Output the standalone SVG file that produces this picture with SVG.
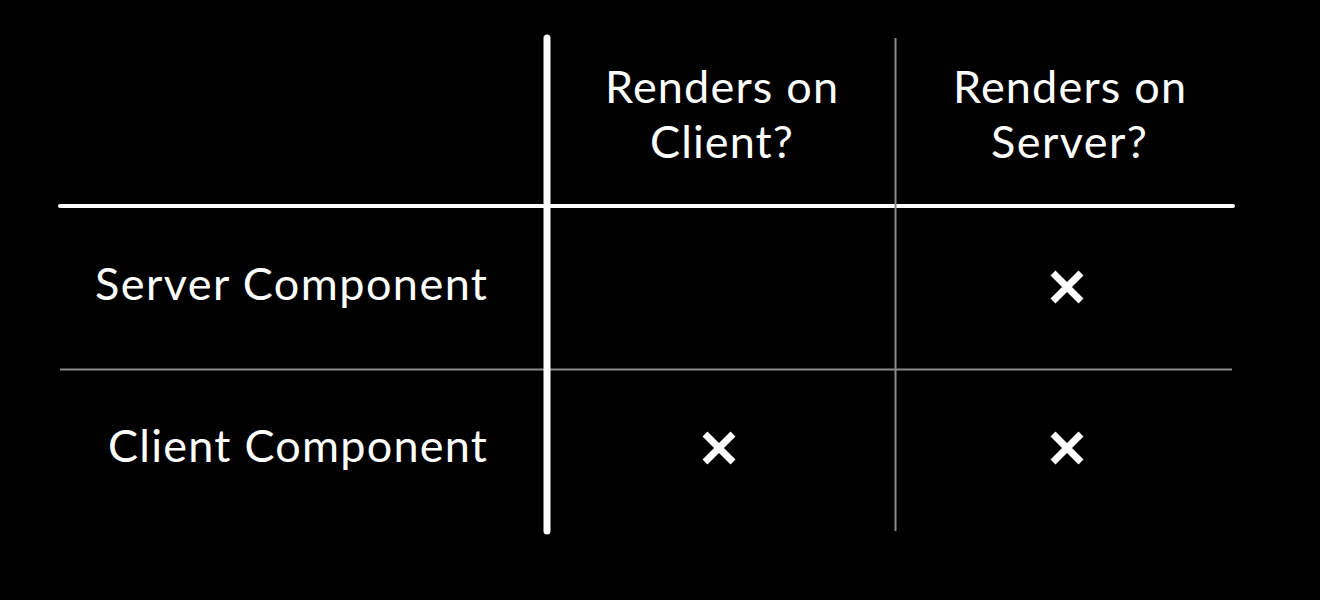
<svg xmlns="http://www.w3.org/2000/svg" width="1320" height="600" viewBox="0 0 1320 600">
<style>
.t{font-family:Lato,"Open Sans","Liberation Sans",sans-serif;font-size:45px;fill:#fff}
.x{stroke:#fff;stroke-width:7;stroke-linecap:butt}
</style>
<rect width="1320" height="600" fill="#000"/>
<g id="grid">
<line x1="60" y1="206" x2="1233" y2="206" stroke="#fff" stroke-width="4" stroke-linecap="round"/>
<line x1="60" y1="369.5" x2="1232" y2="369.5" stroke="#8a8a8a" stroke-width="2"/>
<line x1="895.5" y1="38" x2="895.5" y2="531" stroke="#8a8a8a" stroke-width="2"/>
<line x1="547" y1="38" x2="547" y2="531" stroke="#fff" stroke-width="7" stroke-linecap="round"/>
</g>
<g id="header-client"><text class="t" x="605" y="103" textLength="233" lengthAdjust="spacing">Renders on</text><text class="t" x="650" y="158" textLength="143" lengthAdjust="spacing">Client?</text></g>
<g id="header-server"><text class="t" x="953" y="103" textLength="233" lengthAdjust="spacing">Renders on</text><text class="t" x="991" y="158" textLength="156" lengthAdjust="spacing">Server?</text></g>
<g id="row-server"><text class="t" x="95" y="300" textLength="392" lengthAdjust="spacing">Server Component</text></g>
<g id="row-client"><text class="t" x="108" y="462" textLength="379" lengthAdjust="spacing">Client Component</text></g>
<g id="mark-server-server"><path class="x" d="M1053 273L1081 301M1081 273L1053 301"/></g>
<g id="mark-client-client"><path class="x" d="M705 434L733 462M733 434L705 462"/></g>
<g id="mark-client-server"><path class="x" d="M1053 434L1081 462M1081 434L1053 462"/></g>
</svg>
